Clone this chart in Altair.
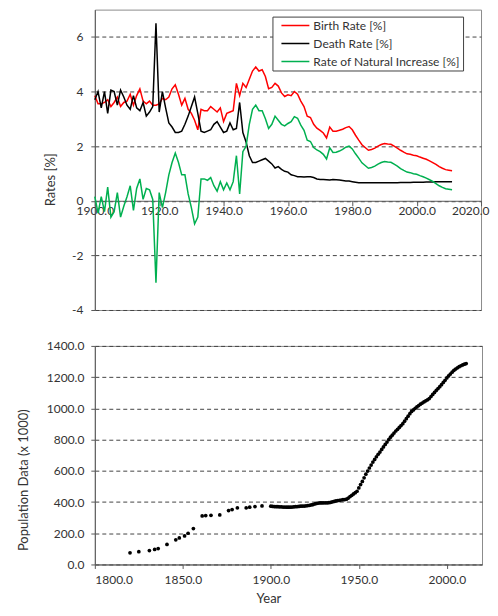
import altair as alt
import pandas as pd

# ---------------- data: rates (annual, 1900-2011) ----------------
years = list(range(1900, 2012))

birth = [
    3.85, 3.55, 3.55, 3.60, 3.70, 3.45, 3.60, 3.80, 3.45, 3.60,
    3.65, 3.90, 3.50, 3.85, 4.10, 3.65, 3.55, 3.65, 3.50, 3.50,
    3.55, 3.75, 3.70, 3.80, 4.10, 4.25, 3.90, 3.50, 3.75, 3.35,
    3.20, 2.95, 2.60, 3.35, 3.30, 3.30, 3.45, 3.35, 3.25, 3.40,
    2.90, 3.20, 3.25, 3.30, 4.30, 3.85, 4.30, 4.15, 4.45, 4.75,
    4.90, 4.75, 4.80, 4.55, 4.10, 4.15, 4.30, 4.20, 3.95, 3.82,
    3.88, 3.85, 4.00, 3.90, 3.65, 3.45, 3.10, 3.05, 2.80, 2.66,
    2.58, 2.48, 2.30, 2.70, 2.55, 2.55, 2.58, 2.62, 2.68, 2.72,
    2.60, 2.40, 2.22, 2.05, 1.95, 1.85, 1.88, 1.93, 2.00, 2.06,
    2.10, 2.08, 2.07, 2.00, 1.93, 1.85, 1.78, 1.72, 1.70, 1.67,
    1.65, 1.60, 1.56, 1.52, 1.46, 1.40, 1.33, 1.25, 1.19, 1.14,
    1.12, 1.10,
]

death = [
    3.70, 4.00, 3.40, 4.00, 3.20, 4.05, 4.00, 3.50, 4.05, 3.80,
    3.50, 3.35, 3.85, 3.40, 3.30, 3.60, 3.10, 3.25, 3.45, 6.50,
    3.25, 4.00, 3.40, 2.85, 2.70, 2.50, 2.50, 2.55, 2.80, 3.10,
    3.45, 3.80, 3.20, 2.55, 2.50, 2.55, 2.60, 2.80, 2.90, 2.70,
    2.50, 2.55, 2.85, 2.60, 2.65, 3.60, 2.50, 2.15, 1.65, 1.40,
    1.40, 1.45, 1.50, 1.55, 1.45, 1.35, 1.20, 1.25, 1.15, 1.08,
    1.05, 0.95, 0.92, 0.88, 0.88, 0.87, 0.88, 0.88, 0.85, 0.80,
    0.78, 0.78, 0.77, 0.76, 0.78, 0.77, 0.76, 0.74, 0.72, 0.72,
    0.70, 0.68, 0.66, 0.66, 0.66, 0.66, 0.66, 0.66, 0.66, 0.66,
    0.66, 0.66, 0.66, 0.66, 0.66, 0.67, 0.67, 0.67, 0.67, 0.68,
    0.68, 0.68, 0.68, 0.69, 0.69, 0.69, 0.70, 0.70, 0.70, 0.70,
    0.70, 0.70,
]

natural = [
    0.15, -0.45, 0.15, -0.40, 0.50, -0.60, -0.40, 0.30, -0.60, -0.20,
    0.15, 0.55, -0.35, 0.45, 0.80, 0.05, 0.45, 0.40, 0.05, -3.00,
    0.30, -0.25, 0.30, 0.95, 1.40, 1.75, 1.40, 0.95, 0.95, 0.25,
    -0.25, -0.85, -0.60, 0.80, 0.80, 0.75, 0.85, 0.55, 0.35, 0.70,
    0.40, 0.65, 0.40, 0.70, 1.65, 0.25, 1.80, 2.00, 2.80, 3.35,
    3.50, 3.30, 3.30, 3.00, 2.65, 2.80, 3.10, 2.95, 2.80, 2.74,
    2.83, 2.90, 3.08, 3.02, 2.77, 2.58, 2.22, 2.17, 1.95, 1.86,
    1.80, 1.70, 1.53, 1.94, 1.77, 1.78, 1.82, 1.88, 1.96, 2.00,
    1.90, 1.72, 1.56, 1.39, 1.29, 1.19, 1.22, 1.27, 1.34, 1.40,
    1.44, 1.42, 1.41, 1.34, 1.27, 1.18, 1.11, 1.05, 1.03, 0.99,
    0.97, 0.92, 0.88, 0.83, 0.77, 0.71, 0.63, 0.55, 0.49, 0.44,
    0.42, 0.40,
]

series_names = ["Birth Rate [%]", "Death Rate [%]", "Rate of Natural Increase [%]"]
series_colors = ["#ff0000", "#000000", "#00b050"]

rate_x_ticks = [1900, 1920, 1940, 1960, 1980, 2000, 2020]
rate_y_ticks = [-4, -2, 0, 2, 4, 6]

# ---------------- data: population ----------------
pop_years = [
    1820, 1825, 1831, 1834, 1836, 1841, 1846, 1848, 1851, 1853, 1856,
    1861, 1863, 1866, 1871, 1876, 1878, 1881, 1886, 1888, 1891, 1895,
] + list(range(1900, 2012))

pop_values = [
    75, 82, 89, 96, 102, 128, 158, 170, 183, 200, 230,
    311, 313, 315, 317, 345, 352, 362, 362, 367, 371, 375,
    # 1900-2011
    373, 372, 371, 370, 370, 369, 369, 368, 368, 367,
    367, 367, 368, 369, 370, 371, 372, 373, 374, 374,
    376, 377, 379, 381, 384, 388, 391, 393, 394, 394,
    395, 395, 395, 396, 398, 401, 404, 407, 409, 411,
    413, 415, 416, 418, 425, 435, 443, 452, 460, 469,
    490, 512, 532, 555, 578, 598, 618, 637, 656, 673,
    690, 706, 720, 737, 753, 769, 784, 800, 815, 828,
    842, 855, 866, 878, 890, 902, 918, 934, 950, 966,
    980, 990, 1000, 1009, 1018, 1027, 1034, 1041, 1048, 1055,
    1063, 1076, 1089, 1102, 1115, 1127, 1139, 1152, 1166, 1180,
    1195, 1208, 1220, 1232, 1243, 1252, 1260, 1267, 1273, 1278,
    1283, 1287,
]

pop_x_ticks = [1800, 1850, 1900, 1950, 2000]
pop_y_ticks = [0, 200, 400, 600, 800, 1000, 1200, 1400]

# ---------------- tables ----------------
rows = []
for name, vals in zip(series_names, [birth, death, natural]):
    for yr, v in zip(years, vals):
        rows.append({"Year": yr, "Rate": v, "Series": name})
rates = pd.DataFrame(rows)
pop = pd.DataFrame({"Year": pop_years, "Population": pop_values})

# ---------------- layout constants ----------------
TOP_W, TOP_H = 387, 301
BOT_W, BOT_H = 388, 219
y_dom = [-4, 7]
zero_offset = -TOP_H * (0 - y_dom[0]) / (y_dom[1] - y_dom[0])

DASH = [4, 3]
GRID = "#444444"
AXC = "#595959"
TXT = "#333333"

last_label = {"test": "datum.value == 2020"}

top = alt.Chart(rates).mark_line(strokeWidth=1.5).encode(
    x=alt.X(
        "Year:Q",
        scale=alt.Scale(domain=[1900, 2020], nice=False, zero=False),
        axis=alt.Axis(values=rate_x_ticks, format=".1f", title=None, grid=False,
                      offset=zero_offset, tickSize=5, labelPadding=0,
                      labelFlush=False,
                      labelAlign={"condition": {**last_label, "value": "right"},
                                  "value": "center"},
                      labelOffset={"condition": {**last_label, "value": 8},
                                   "value": 0}),
    ),
    y=alt.Y(
        "Rate:Q",
        scale=alt.Scale(domain=y_dom, nice=False, zero=False),
        axis=alt.Axis(values=rate_y_ticks, labelExpr="'' + datum.value",
                      title="Rates [%]", grid=True, gridDash=DASH, gridColor=GRID,
                      tickSize=4, labelPadding=8, titlePadding=14, titleY=170),
    ),
    color=alt.Color(
        "Series:N",
        scale=alt.Scale(domain=series_names, range=series_colors),
        legend=alt.Legend(title=None, orient="none", legendX=178, legendY=7,
                          direction="vertical", symbolType="stroke",
                          symbolSize=784, symbolStrokeWidth=1.5,
                          symbolOffset=5, clipHeight=12,
                          labelFontSize=12, labelColor=TXT, labelOffset=3,
                          padding=3, rowPadding=6, strokeColor="#404040",
                          fillColor="white"),
    ),
).properties(width=TOP_W, height=TOP_H)

bottom = alt.Chart(pop).mark_circle(size=14, color="black", opacity=1).encode(
    x=alt.X(
        "Year:Q",
        scale=alt.Scale(domain=[1800, 2020], nice=False, zero=False),
        axis=alt.Axis(values=pop_x_ticks, format=".1f", title="Year", grid=False,
                      tickSize=4, labelPadding=6, titlePadding=7, titleX=174),
    ),
    y=alt.Y(
        "Population:Q",
        scale=alt.Scale(domain=[0, 1400], nice=False),
        axis=alt.Axis(values=pop_y_ticks, format=".1f",
                      title="Population Data (x 1000)", grid=True,
                      gridDash=DASH, gridColor=GRID, tickSize=4, labelPadding=7,
                      titlePadding=16, titleY=134),
    ),
).properties(width=BOT_W, height=BOT_H)

chart = alt.vconcat(top, bottom, spacing=36, bounds="flush").properties(
    padding={"left": 8, "top": 0, "right": 0, "bottom": 0}
).configure(font="Lato").configure_view(
    stroke="#8c8c8c", strokeWidth=1
).configure_axis(
    labelFont="Lato", labelFontSize=12, labelColor=TXT,
    titleFont="Lato", titleFontSize=13, titleFontWeight="normal", titleColor=TXT,
    domainColor=AXC, tickColor=AXC,
)

chart.save("out.html", embed_options={"renderer": "svg", "actions": False})
